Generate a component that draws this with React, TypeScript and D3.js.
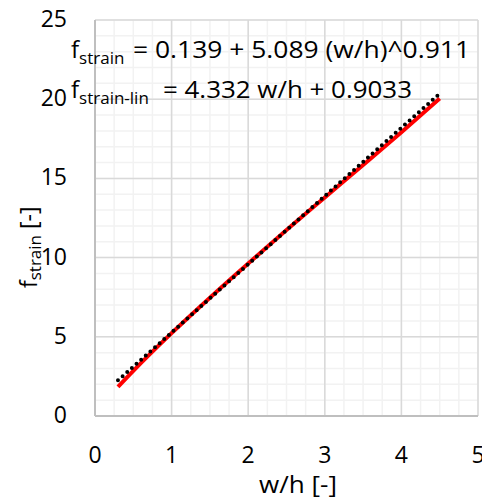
import React from 'react';
import * as d3 from 'd3';

const xTicks = [0, 1, 2, 3, 4, 5];
const yTicks = [0, 5, 10, 15, 20, 25];
// black dotted line (linear fit)
const linX = [0.3, 4.5];
const linY = [2.25, 20.35];
// red line (power fit)
const powX = [0.3, 0.5, 1, 1.5, 2, 2.5, 3, 3.5, 4, 4.5];
const powY = [1.84, 2.85, 5.23, 7.47, 9.63, 11.74, 13.8, 15.85, 17.92, 20.05];

const W = 482;
const H = 502;
const m = { left: 95, right: 4, top: 20, bottom: 86 };
const font = '"Open Sans", Lato, sans-serif';

export default function App() {
    const x = d3.scaleLinear().domain([0, 5]).range([m.left, W - m.right]);
    const y = d3.scaleLinear().domain([0, 25]).range([H - m.bottom, m.top]);

    const xMinor = d3.range(0, 5.001, 0.25);
    const yMinor = d3.range(0, 25.001, 1);

    const line = d3.line<[number, number]>()
        .x(d => x(d[0]))
        .y(d => y(d[1]))
        .curve(d3.curveMonotoneX);

    const linPts = linX.map((v, i) => [v, linY[i]] as [number, number]);
    const powPts = powX.map((v, i) => [v, powY[i]] as [number, number]);

    return (
        <svg width={W} height={H} style={{ position: 'absolute', left: 0, top: 0, background: '#fff' }}>
            {/* minor grid */}
            {xMinor.map(v => (
                <line key={'xm' + v} x1={x(v)} x2={x(v)} y1={y(0)} y2={y(25)} stroke="#f2f2f2" strokeWidth={1.5} />
            ))}
            {yMinor.map(v => (
                <line key={'ym' + v} x1={x(0)} x2={x(5)} y1={y(v)} y2={y(v)} stroke="#f2f2f2" strokeWidth={1.5} />
            ))}
            {/* major grid */}
            {xTicks.map(v => (
                <line key={'xg' + v} x1={x(v)} x2={x(v)} y1={y(0)} y2={y(25)} stroke="#d9d9d9" strokeWidth={1.5} />
            ))}
            {yTicks.map(v => (
                <line key={'yg' + v} x1={x(0)} x2={x(5)} y1={y(v)} y2={y(v)} stroke="#d9d9d9" strokeWidth={1.5} />
            ))}
            {/* axes */}
            <line x1={x(0)} x2={x(0)} y1={y(0)} y2={y(25)} stroke="#bfbfbf" strokeWidth={2} />
            <line x1={x(0)} x2={x(5)} y1={y(0)} y2={y(0)} stroke="#bfbfbf" strokeWidth={2} />

            {/* series */}
            <path d={line(powPts) || ''} fill="none" stroke="#ff0000" strokeWidth={4} />
            <path d={line(linPts) || ''} fill="none" stroke="#000" strokeWidth={4}
                strokeLinecap="round" strokeDasharray="0 6.2" />

            {/* tick labels */}
            {xTicks.map(v => (
                <text key={'xt' + v} x={x(v)} y={463} textAnchor="middle" fontFamily={font} fontSize={23}>{v}</text>
            ))}
            {yTicks.map(v => (
                <text key={'yt' + v} x={67} y={y(v) + 7} textAnchor="end" fontFamily={font} fontSize={23}>{v}</text>
            ))}

            {/* axis titles */}
            <text x={259} y={493} fontFamily={font} fontSize={23} textLength={78} lengthAdjust="spacingAndGlyphs">w/h [-]</text>
            <text transform="translate(37,288) rotate(-90)" fontFamily={font} fontSize={23}>
                f<tspan fontSize={17} dy={4}>strain</tspan><tspan dy={-4}> [-]</tspan>
            </text>

            {/* equations */}
            <text x={71} y={58} fontFamily={font} fontSize={24}>
                f<tspan fontSize={17} dy={6}>strain</tspan>
            </text>
            <text x={133} y={58} fontFamily={font} fontSize={23} textLength={337} lengthAdjust="spacingAndGlyphs">
                = 0.139 + 5.089 (w/h)^0.911
            </text>
            <text x={71} y={98} fontFamily={font} fontSize={24}>
                f<tspan fontSize={17} dy={6}>strain-lin</tspan>
            </text>
            <text x={163} y={98} fontFamily={font} fontSize={23} textLength={249} lengthAdjust="spacingAndGlyphs">
                = 4.332 w/h + 0.9033
            </text>
        </svg>
    );
}
